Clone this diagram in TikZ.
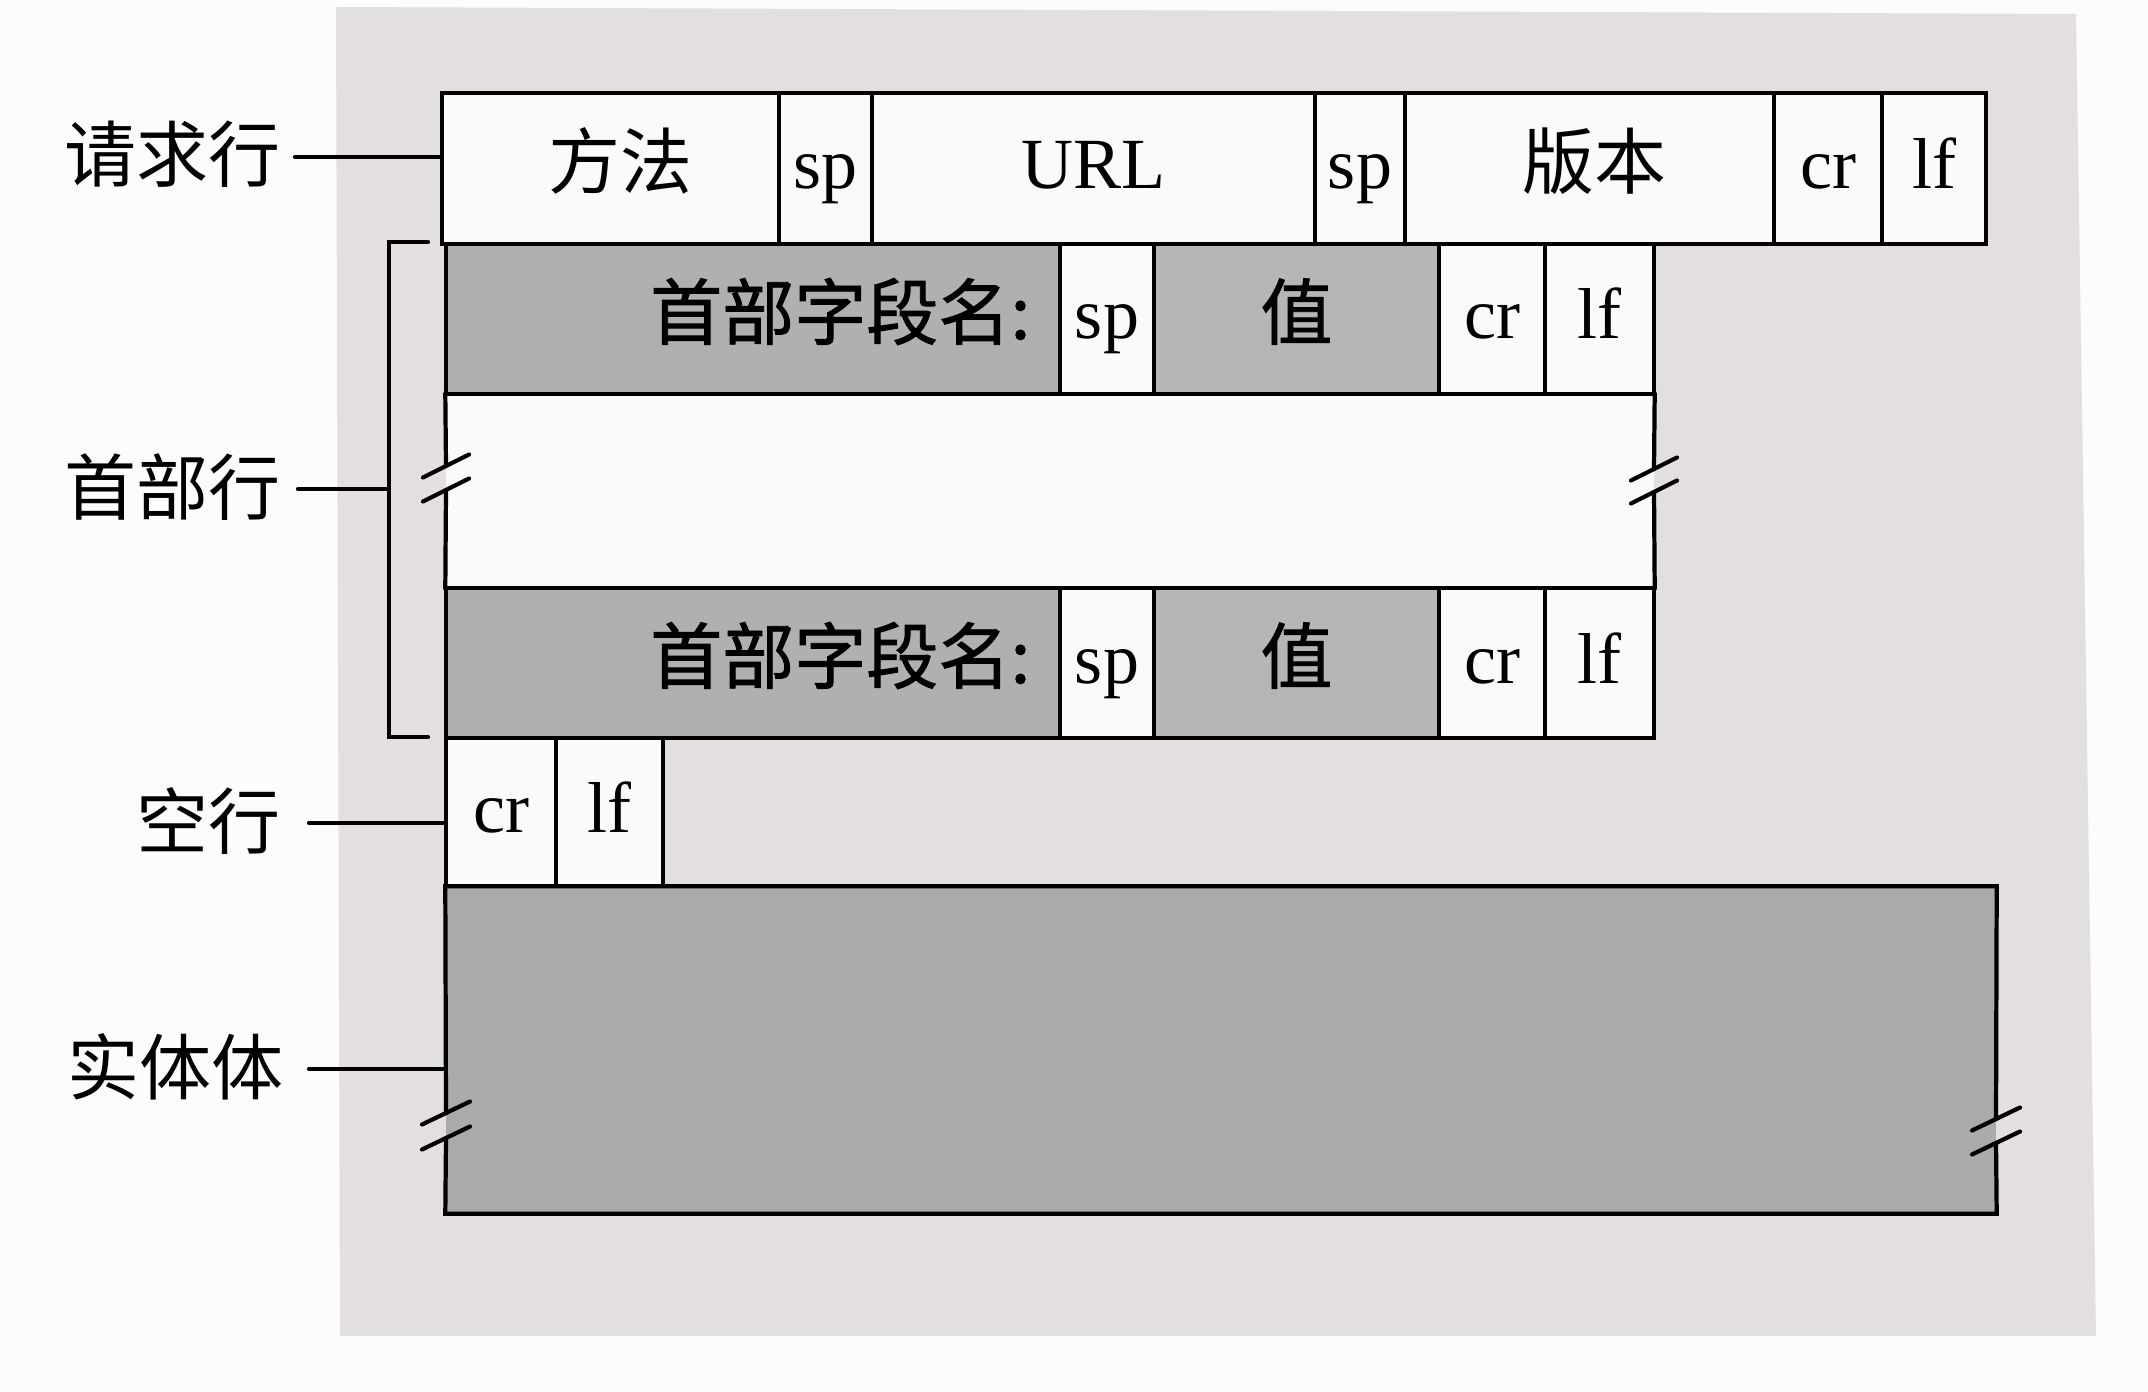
\documentclass[tikz,border=0pt]{standalone}
\usepackage{fontspec}
\setmainfont{Liberation Serif}
\newfontfamily\cjk{Noto Sans CJK SC}
\newfontfamily\cjkm[FakeBold=1.2]{Noto Sans CJK SC}
\definecolor{pagebg}{RGB}{252,252,252}
\definecolor{paper}{RGB}{226,222,226}
\definecolor{cellgray}{RGB}{176,176,176}
\definecolor{valgray}{RGB}{182,182,182}
\definecolor{entgray}{RGB}{170,170,170}
\definecolor{cellwhite}{RGB}{250,250,250}
\tikzset{
  wire/.style={line width=1.2pt, line cap=round},
  cell/.style={draw=black, line width=1.2pt, fill=cellwhite, inner sep=0pt,
    text height=0.55cm, text depth=0.15cm, font=\fontsize{20.5}{24}\selectfont},
  gcell/.style={cell, fill=cellgray},
  vcell/.style={cell, fill=valgray},
  lab/.style={inner sep=0pt, anchor=east, text height=0.62cm, text depth=0.12cm,
    font=\cjk\fontsize{20.5}{24}\selectfont},
  rowA/.style={minimum height=1.51cm},
  rowB/.style={minimum height=1.50cm},
}
\begin{document}
\begin{tikzpicture}
\useasboundingbox (0,0) rectangle (21.48,-13.92);
\fill[pagebg] (0,0) rectangle (21.48,-13.92);
\fill[paper] (3.36,-0.07) -- (20.76,-0.14) -- (20.96,-13.36) -- (3.40,-13.36) -- cycle;

% request line
\node[cell, rowA, minimum width=3.37cm] (m)   at (6.105,-1.685) {\hspace*{0.2cm}\cjk 方法};
\node[cell, rowA, minimum width=0.93cm] (sp1) at (8.255,-1.685) {sp};
\node[cell, rowA, minimum width=4.43cm] (url) at (10.935,-1.685) {URL};
\node[cell, rowA, minimum width=0.90cm] (sp2) at (13.60,-1.685) {sp};
\node[cell, rowA, minimum width=3.69cm] (ver) at (15.895,-1.685) {\hspace*{0.1cm}\cjk 版本};
\node[cell, rowA, minimum width=1.08cm] (cr0) at (18.28,-1.685) {cr};
\node[cell, rowA, minimum width=1.04cm] (lf0) at (19.34,-1.685) {lf};

% middle white box of header lines
\node[fill=cellwhite, inner sep=0pt, minimum width=12.08cm, minimum height=1.94cm] (mid) at (10.50,-4.91) {};

% header line 1
\node[gcell, rowB, minimum width=6.14cm, text width=5.55cm, align=right] (hn1) at (7.53,-3.19) {\cjkm 首部字段名:};
\node[cell, rowB, minimum width=0.94cm] (hs1) at (11.07,-3.19) {sp};
\node[vcell, rowB, minimum width=2.85cm] (hv1) at (12.965,-3.19) {\cjkm 值};
\node[cell, rowB, minimum width=1.06cm] (hc1) at (14.92,-3.19) {cr};
\node[cell, rowB, minimum width=1.09cm] (hl1) at (15.995,-3.19) {lf};

% header line 2
\node[gcell, rowB, minimum width=6.14cm, text width=5.55cm, align=right] (hn2) at (7.53,-6.63) {\cjkm 首部字段名:};
\node[cell, rowB, minimum width=0.94cm] (hs2) at (11.07,-6.63) {sp};
\node[vcell, rowB, minimum width=2.85cm] (hv2) at (12.965,-6.63) {\cjkm 值};
\node[cell, rowB, minimum width=1.06cm] (hc2) at (14.92,-6.63) {cr};
\node[cell, rowB, minimum width=1.09cm] (hl2) at (15.995,-6.63) {lf};

% broken side edges of the middle box
\coordinate (bL1) at (4.46,-4.66);
\coordinate (bL2) at (4.46,-4.90);
\coordinate (bR1) at (16.54,-4.69);
\coordinate (bR2) at (16.54,-4.92);
\draw[wire] (mid.north west) -- (bL1);
\draw[wire] (bL2) -- (mid.south west);
\draw[wire] (mid.north east) -- (bR1);
\draw[wire] (bR2) -- (mid.south east);
\foreach \p in {bL1,bL2,bR1,bR2}
  \draw[wire] ([shift={(-0.23,-0.115)}]\p) -- ([shift={(0.23,0.115)}]\p);

% blank line
\node[cell, minimum height=1.49cm, minimum width=1.10cm] (bcr) at (5.01,-8.125) {cr};
\node[cell, minimum height=1.49cm, minimum width=1.07cm] (blf) at (6.095,-8.125) {lf};

% entity body
\node[fill=entgray, inner sep=0pt, minimum width=15.50cm, minimum height=3.26cm] (ent) at (12.21,-10.50) {};
\coordinate (eL1) at (4.46,-11.13);
\coordinate (eL2) at (4.46,-11.38);
\coordinate (eR1) at (19.96,-11.19);
\coordinate (eR2) at (19.96,-11.43);
\draw[wire] (eL1) -- (ent.north west) -- (ent.north east) -- (eR1);
\draw[wire] (eR2) -- (ent.south east) -- (ent.south west) -- (eL2);
\foreach \p in {eL1,eL2,eR1,eR2}
  \draw[wire] ([shift={(-0.24,-0.115)}]\p) -- ([shift={(0.24,0.115)}]\p);

% bracket of the header lines
\coordinate (brt) at (4.28,-2.42);
\coordinate (brb) at (4.28,-7.37);
\coordinate (brm) at (3.89,-4.89);
\draw[wire] (brt) -- (brt -| brm) -- (brb -| brm) -- (brb);

% labels
\node[lab] (l1) at (2.81,-1.57) {请求行};
\node[lab] (l2) at (2.81,-4.89) {首部行};
\node[lab] (l3) at (2.81,-8.23) {空行};
\node[lab] (l4) at (2.84,-10.69) {实体体};
\draw[wire] ([xshift=0.14cm]l1.east) -- (l1.east -| m.west);
\draw[wire] ([xshift=0.17cm]l2.east) -- (brm);
\draw[wire] ([xshift=0.28cm]l3.east) -- (l3.east -| bcr.west);
\draw[wire] ([xshift=0.25cm]l4.east) -- (l4.east -| ent.west);
\end{tikzpicture}
\end{document}
